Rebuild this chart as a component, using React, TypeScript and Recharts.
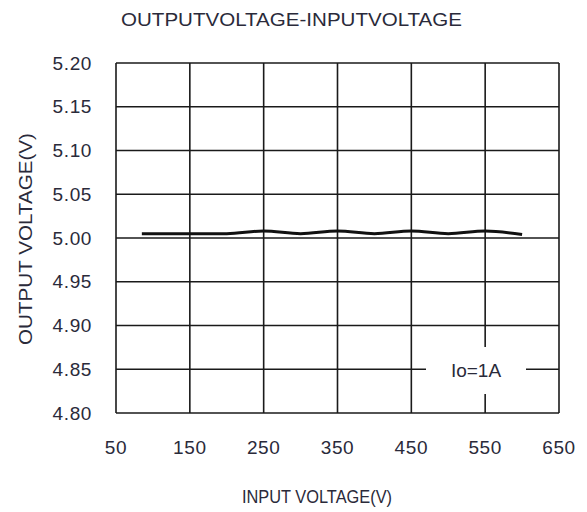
import React from 'react';
import { LineChart, Line, XAxis, YAxis, CartesianGrid, Legend } from 'recharts';

// input voltage (V) vs output voltage (V), Io = 1A
const inputVoltage = [85, 150, 200, 250, 300, 350, 400, 450, 500, 550, 600];
const outputVoltage = [5.005, 5.005, 5.005, 5.008, 5.005, 5.008, 5.005, 5.008, 5.005, 5.008, 5.004];

const xTicks = [50, 150, 250, 350, 450, 550, 650];
const yTicks = [4.8, 4.85, 4.9, 4.95, 5.0, 5.05, 5.1, 5.15, 5.2];

const seriesName = 'Io=1A';
const titleText = 'OUTPUTVOLTAGE-INPUTVOLTAGE';
const xLabelText = 'INPUT VOLTAGE(V)';
const yLabelText = 'OUTPUT VOLTAGE(V)';

const FONT = '"Liberation Sans", Arial, sans-serif';
const INK = '#1a1a1a';
const TEXT = '#2a2a3a';

const chartData = inputVoltage.map((v, i) => ({ vin: v, vout: outputVoltage[i] }));

const LegendBox = () => (
  <div
    style={{
      width: 100,
      height: 47,
      background: '#fff',
      display: 'flex',
      alignItems: 'center',
      justifyContent: 'center',
      fontFamily: FONT,
      fontSize: 19,
      color: TEXT,
    }}
  >
    {seriesName}
  </div>
);

const App: React.FC = () => {
  return (
    <div style={{ position: 'absolute', left: 0, top: 0, width: 587, height: 512, background: '#fff' }}>
      <LineChart
        width={587}
        height={512}
        data={chartData}
        margin={{ top: 63, right: 28, left: 36, bottom: 69 }}
      >
        <CartesianGrid stroke={INK} strokeWidth={1.6} />
        <XAxis
          dataKey="vin"
          type="number"
          domain={[50, 650]}
          ticks={xTicks}
          axisLine={false}
          tickLine={false}
          tickSize={0}
          tickMargin={28}
          height={30}
          tick={{ fill: TEXT, fontSize: 19, fontFamily: FONT, letterSpacing: 0.6 }}
        />
        <YAxis
          type="number"
          domain={[4.8, 5.2]}
          ticks={yTicks}
          axisLine={false}
          tickLine={false}
          tickSize={0}
          tickMargin={24}
          width={80}
          tickFormatter={(v: number) => v.toFixed(2)}
          tick={{ fill: TEXT, fontSize: 19, fontFamily: FONT, letterSpacing: 0.6 }}
        />
        <Legend
          layout="horizontal"
          verticalAlign="middle"
          align="center"
          content={<LegendBox />}
          wrapperStyle={{ position: 'absolute', left: 426, top: 347, width: 100, height: 47 }}
        />
        <Line
          type="monotone"
          dataKey="vout"
          name={seriesName}
          stroke="#111"
          strokeWidth={3}
          dot={false}
          isAnimationActive={false}
        />
      </LineChart>
      <svg
        width={587}
        height={512}
        style={{ position: 'absolute', left: 0, top: 0, pointerEvents: 'none' }}
      >
        <g fontFamily={FONT} fontSize={19} fill={TEXT}>
          <text x={291.5} y={26} textAnchor="middle" textLength={341} lengthAdjust="spacingAndGlyphs">
            {titleText}
          </text>
          <text x={317} y={503} textAnchor="middle" textLength={150} lengthAdjust="spacingAndGlyphs">
            {xLabelText}
          </text>
          <text
            x={0}
            y={0}
            transform="translate(32 239) rotate(-90)"
            textAnchor="middle"
            textLength={212}
            lengthAdjust="spacingAndGlyphs"
          >
            {yLabelText}
          </text>
        </g>
      </svg>
    </div>
  );
};

export default App;
